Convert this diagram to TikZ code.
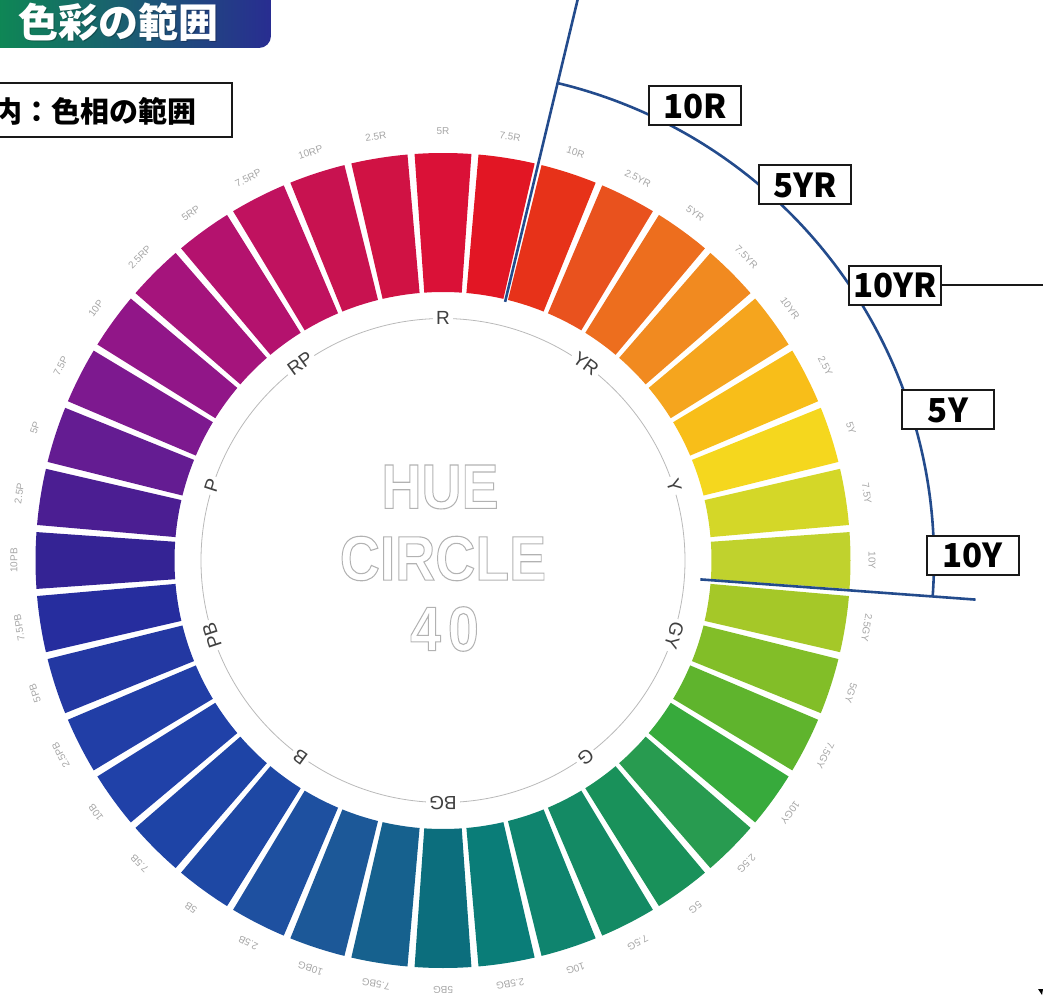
\documentclass[tikz,border=0pt]{standalone}
\usepackage{fontspec}
\setmainfont{Liberation Sans}
\newfontfamily\jp{Noto Sans CJK JP}
\definecolor{bluel}{RGB}{35,75,140}
\definecolor{tleft}{RGB}{10,150,75}
\definecolor{tmid}{RGB}{0,158,200}
\definecolor{tright}{RGB}{40,45,145}
\newcommand\outl[1]{\special{pdf:literal direct 1 Tr 1.1 w}#1\special{pdf:literal direct 0 Tr}}
\begin{document}
\begin{tikzpicture}[x=1pt,y=1pt,
  seglab/.style={font=\fontsize{10}{11}\selectfont, text=gray!70, inner sep=0pt},
  huelab/.style={font=\fontsize{19}{20}\selectfont, text=black!75, fill=white, inner sep=3pt},
  tag/.style={draw=black!90, line width=2pt, fill=white, minimum width=92pt, minimum height=39pt, inner sep=0pt, font=\jp\bfseries\fontsize{33}{36}\selectfont},
  blueline/.style={draw=bluel, line width=2.6pt},
  bigtxt/.style={font=\bfseries\fontsize{63}{64}\selectfont, text=gray!60, inner sep=0pt}]
\useasboundingbox (-443,-440.5) rectangle (600,560.5);
\clip (-443,-440.5) rectangle (600,560.5);
% title
\shade[left color=tleft, middle color=tmid, right color=tright, rounded corners=12pt] (-490,512.5) rectangle (-172,575);
\node[font=\jp\bfseries\fontsize{40}{44}\selectfont, text=black, opacity=0.25] (titleshadow) at (-323,537) {色彩の範囲};
\node[font=\jp\bfseries\fontsize{40}{44}\selectfont, text=white] (title) at (-324.5,538.5) {色彩の範囲};
% legend box
\draw[line width=2.5pt, black!90] (-460,477.5) rectangle (-211,423.5);
\node[anchor=east, font=\jp\bfseries\fontsize{29}{32}\selectfont, inner sep=0pt] (legend) at (-246,449.5) {内：色相の範囲};
% segments
\foreach \i/\lab/\R/\G/\B in {
 0/5R/218/17/55, 1/7.5R/226/22/36, 2/10R/231/50/25, 3/2.5YR/233/82/30,
 4/5YR/237/110/30, 5/7.5YR/241/138/32, 6/10YR/245/165/30, 7/2.5Y/248/190/25,
 8/5Y/245/215/30, 9/7.5Y/212/215/40, 10/10Y/192/210/45, 11/2.5GY/165/200/40,
 12/5GY/130/190/40, 13/7.5GY/95/180/45, 14/10GY/55/170/60, 15/2.5G/40/155/80,
 16/5G/25/145/90, 17/7.5G/20/138/100, 18/10G/15/132/110, 19/2.5BG/10/125/120,
 20/5BG/12/110/125, 21/7.5BG/22/97/142, 22/10BG/28/88/152, 23/2.5B/30/80/160,
 24/5B/30/72/164, 25/7.5B/30/68/166, 26/10B/32/65/168, 27/2.5PB/33/62/166,
 28/5PB/35/56/162, 29/7.5PB/38/45/158, 30/10PB/52/35/148, 31/2.5P/75/30/146,
 32/5P/100/28/146, 33/7.5P/125/25/143, 34/10P/145/22/136, 35/2.5RP/165/20/124,
 36/5RP/180/18/110, 37/7.5RP/192/18/95, 38/10RP/200/18/80, 39/2.5R/208/18/68} {
  \pgfmathsetmacro\ang{90-9*\i}
  \pgfmathsetmacro\aa{\ang-4}
  \pgfmathsetmacro\ab{\ang+4}
  \definecolor{segc}{RGB}{\R,\G,\B}
  \fill[segc] (\aa:268.5) -- (\aa:407.5) arc[start angle=\aa, end angle=\ab, radius=407.5] -- (\ab:268.5) arc[start angle=\ab, end angle=\aa, radius=268.5] -- cycle;
  \node[seglab, rotate=\ang-90] (o\i) at (\ang:429) {\lab};
}
% inner circle
\draw[gray!55, line width=0.8pt] (0,0) circle[radius=242];
\foreach \j/\lab in {0/R,4/YR,8/Y,12/GY,16/G,20/BG,24/B,28/PB,32/P,36/RP} {
  \pgfmathsetmacro\ang{90-9*\j}
  \node[huelab, rotate=\ang-90] (h\j) at (\ang:243) {\lab};
}
% centre text
\node[bigtxt] (hue) at (-3,73.5) {\scalebox{0.88}[1]{\outl{HUE}}};
\node[bigtxt] (circ) at (0,2) {\scalebox{0.88}[1]{\outl{CIRCLE}}};
\node[bigtxt] (forty) at (1.5,-68.5) {\scalebox{0.88}[1]{\outl{4\kern8pt0}}};
% blue range lines
\coordinate (l1a) at (76.5:266);
\coordinate (l1b) at (76.5:600);
\coordinate (l2a) at (-4.2:258);
\coordinate (l2b) at (-4.2:534);
\draw[blueline] (l1a) -- (l1b);
\draw[blueline] (l2a) -- (l2b);
\draw[blueline] (76.5:491) arc[start angle=76.5, end angle=-4.2, radius=491];
% tags
\node[tag] (t10R) at (252,454.5) {10R};
\node[tag] (t5YR) at (362,375.5) {5YR};
\node[tag] (t10YR) at (452,275) {10YR};
\node[tag] (t5Y) at (505,150.5) {5Y};
\node[tag] (t10Y) at (529.5,5.5) {10Y};
\coordinate (edge) at (610,275);
\draw[black!90, line width=2pt] (t10YR.east) -- (edge);
% corner mark
\fill[black] (595,-428.5) -- (600,-428.5) -- (599,-434.5) -- cycle;
\end{tikzpicture}
\end{document}
